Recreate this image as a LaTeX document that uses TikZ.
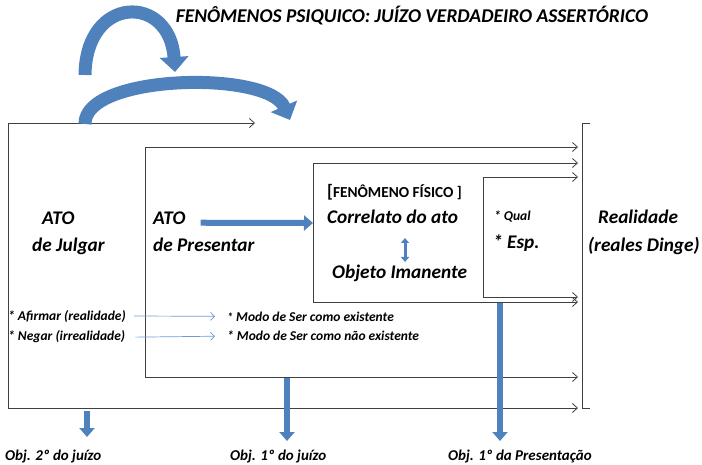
\documentclass[tikz,border=0pt]{standalone}
\usepackage{fontspec}
\setmainfont{Carlito}
\usetikzlibrary{arrows.meta}
\definecolor{arcblue}{RGB}{79,129,189}
\definecolor{thinblue}{RGB}{110,155,215}

\tikzset{
  frameline/.style  = {draw=black!75, line width=0.8pt},
  framearrow/.style = {frameline, -{Straight Barb[length=5pt,width=9pt]}},
  fatarrow/.style   = {draw=arcblue, line width=6pt, -{Triangle[length=9pt,width=15pt]}},
  arcarrow/.style   = {draw=arcblue, line width=13pt, -{Triangle[length=15pt,width=28pt]}},
  dblarrow/.style   = {draw=arcblue, line width=3pt, {Triangle[length=5pt,width=8pt]}-{Triangle[length=5pt,width=8pt]}},
  thinarrow/.style  = {draw=thinblue, line width=0.7pt, -{Straight Barb[length=4pt,width=8pt]}},
  bigtxt/.style     = {font=\fontsize{19.3}{22}\selectfont\bfseries\itshape, inner sep=0pt, anchor=base west},
  midtxt/.style     = {font=\fontsize{15}{17}\selectfont\bfseries\itshape, inner sep=0pt, anchor=base west},
  smalltxt/.style   = {font=\fontsize{13.5}{16}\selectfont\bfseries\itshape, inner sep=0pt, anchor=base west},
}

\begin{document}
\begin{tikzpicture}[x=1pt, y=-1pt]
        \useasboundingbox (0,0) rectangle (702,465);

        \node [font=\fontsize{19.5}{22}\selectfont\bfseries\itshape, inner sep=0pt] (title) at (412,16)
              {FENÔMENOS PSIQUICO: JUÍZO VERDADEIRO ASSERTÓRICO};

        % frames
        \coordinate (julgarTL) at (8,123);   \coordinate (julgarBL) at (8,408);
        \coordinate (presTL)   at (145,147); \coordinate (presBL)   at (145,377);
        \coordinate (fisTL)    at (313,163); \coordinate (fisBL)    at (313,302);
        \coordinate (espTL)    at (483,177); \coordinate (espBL)    at (483,297);
        \coordinate (realT)    at (582,123); \coordinate (realB)    at (582,408);

        \draw [framearrow] (julgarBL) -- (julgarTL) -- (255,123);          %Julgar
        \draw [framearrow] (julgarBL) -- (realB -| 578,0);                 %
        \draw [framearrow] (presBL)   -- (presTL) -- (578,147);            %Presentar
        \draw [framearrow] (presBL)   -- (578,377);                        %
        \draw [framearrow] (fisBL)    -- (fisTL) -- (578,163);             %Fisico
        \draw [framearrow] (fisBL)    -- (578,302);                        %
        \draw [framearrow] (espBL)    -- (espTL) -- (578,177);             %Esp
        \draw [framearrow] (espBL)    -- (578,297);                        %
        \draw [frameline]  ([xshift=8]realT) -- (realT) -- (realB) -- ([xshift=8]realB); %Realidade

        % arcs
        \draw [arcarrow] (85,75)  .. controls (86,-6) and (170,-6) .. (175,72);
        \draw [arcarrow] (85,124) .. controls (84,74) and (268,70) .. (290,120);

        % texts
        \node [bigtxt] (atoJ)      at (42,225)  {ATO};
        \node [bigtxt] (julgar)    at (32,252)  {de Julgar};
        \node [bigtxt] (atoP)      at (153,225) {ATO};
        \node [bigtxt] (presentar) at (153,252) {de Presentar};
        \node [font=\fontsize{15.3}{17}\selectfont\bfseries, inner sep=0pt, anchor=base west] (fenomeno) at (327,198)
              {{\fontsize{18}{18}\selectfont[}FENÔMENO FÍSICO ]};
        \node [bigtxt] (correlato) at (327,224) {Correlato do ato};
        \node [bigtxt] (objeto)    at (332,279) {Objeto Imanente};
        \node [smalltxt] (qual)    at (494,221) {* Qual};
        \node [bigtxt] (esp)       at (493,249) {* Esp.};
        \node [bigtxt] (realidade) at (598,224) {Realidade};
        \node [bigtxt] (dinge)     at (588,252) {(reales Dinge)};
        \node [smalltxt] (afirmar) at (8,320)   {* Afirmar (realidade)};
        \node [smalltxt] (negar)   at (8,341)   {* Negar (irrealidade)};
        \node [smalltxt] (modoEx)  at (227,321) {{\large*} Modo de Ser como existente};
        \node [smalltxt] (modoNao) at (227,341) {* Modo de Ser como não existente};
        \node [midtxt] (obj2J)     at (5,460)   {Obj. 2º do juízo};
        \node [midtxt] (obj1J)     at (230,460) {Obj. 1º do juízo};
        \node [midtxt] (obj1P)     at (448,460) {Obj. 1º da Presentação};

        % blue arrows
        \draw [fatarrow]  ([xshift=15,yshift=-4]atoP.east) -- (fisTL |- 0,223);
        \draw [dblarrow]  (405,238) -- (405,262);
        \draw [thinarrow] ([xshift=8]afirmar.east) -- ([xshift=-12]modoEx.west);
        \draw [thinarrow] ([xshift=10]negar.east)  -- ([xshift=-12]modoNao.west);
        \draw [fatarrow]  (87,411)  -- (87,437);
        \draw [fatarrow]  (287,378) -- (287,441);
        \draw [fatarrow]  (500,303) -- (500,441);
\end{tikzpicture}
\end{document}
